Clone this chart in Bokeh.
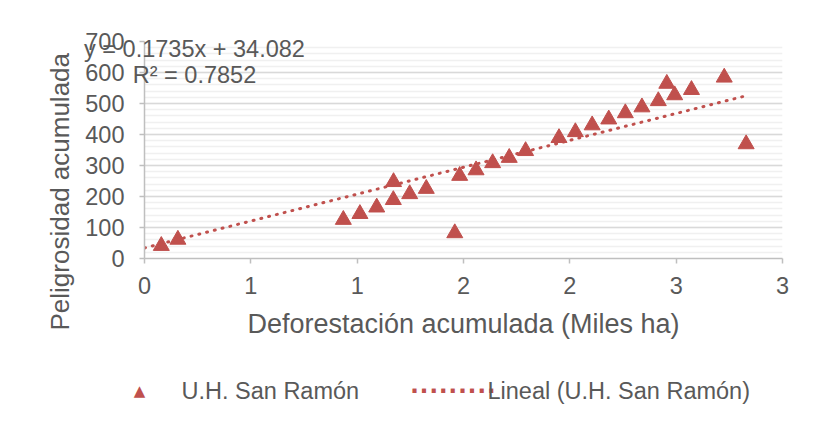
from bokeh.plotting import figure
from bokeh.models import (FixedTicker, SingleIntervalTicker, Range1d,
                          Label, ColumnDataSource, Title)
from bokeh.embed import file_html
from bokeh.resources import INLINE

# ---- data ----
deforestacion_miles_ha = [0.079, 0.157, 0.935, 1.013, 1.092, 1.170, 1.171, 1.247, 1.325,
                          1.459, 1.482, 1.559, 1.637, 1.715, 1.792, 1.949, 2.026, 2.105,
                          2.183, 2.261, 2.339, 2.416, 2.456, 2.493, 2.572, 2.726, 2.829]
peligrosidad = [41, 61, 125, 144, 165, 189, 247, 208, 225,
                82, 267, 285, 308, 325, 347, 389, 408, 430,
                449, 469, 488, 508, 564, 527, 544, 584, 369]

x_ticks = [0.0, 0.5, 1.0, 1.5, 2.0, 2.5, 3.0]
x_tick_labels = ["0", "1", "1", "2", "2", "3", "3"]
y_max = 700
y_step = 100

trend_slope = 0.1735      # per ha
trend_intercept = 34.082
trend_r2 = 0.7852

series_name = "U.H. San Ramón"
trend_name = "Lineal (U.H. San Ramón)"
x_title = "Deforestación acumulada (Miles ha)"
y_title = "Peligrosidad acumulada"

# ---- styling ----
FONT = "Liberation Sans"
GRAY = "#595959"
RED = "#C0504D"
AXIS = "#bfbfbf"

p = figure(frame_width=638, frame_height=217,
           min_border_left=144, min_border_right=27,
           min_border_top=41, min_border_bottom=140,
           x_range=Range1d(x_ticks[0], x_ticks[-1]), y_range=Range1d(0, y_max),
           output_backend="svg", toolbar_location=None)
p.outline_line_color = None
p.background_fill_color = "white"
p.border_fill_color = "white"

# axes
p.xaxis.ticker = FixedTicker(ticks=x_ticks)
p.xaxis.major_label_overrides = {t: l for t, l in zip(x_ticks, x_tick_labels)}
p.yaxis.ticker = SingleIntervalTicker(interval=y_step, num_minor_ticks=5)

for ax in (p.xaxis[0], p.yaxis[0]):
    ax.axis_line_color = AXIS
    ax.axis_line_width = 1.5
    ax.major_tick_line_color = AXIS
    ax.major_tick_line_width = 1.5
    ax.major_tick_out = 5
    ax.major_tick_in = 0
    ax.minor_tick_line_color = None
    ax.major_label_text_font = FONT
    ax.major_label_text_font_size = "23.5px"
    ax.major_label_text_color = GRAY
    ax.axis_label_text_font = FONT
    ax.axis_label_text_font_size = "27px"
    ax.axis_label_text_color = GRAY
    ax.axis_label_text_font_style = "normal"

p.xaxis.axis_label = x_title
p.xaxis.major_label_standoff = 13
p.xaxis.axis_label_standoff = 12
p.yaxis.major_label_standoff = 15

# y title: Excel places it lower than the plot-area centre
p.add_layout(Title(text=y_title, align="left", offset=-72, vertical_align="middle",
                   text_font=FONT, text_font_size="26px", text_font_style="normal",
                   text_color=GRAY, standoff=14), "left")

p.xgrid.grid_line_color = None
p.ygrid.grid_line_color = "#d9d9d9"
p.ygrid.grid_line_width = 1.5
p.ygrid.minor_grid_line_color = "#f0f0f0"
p.ygrid.minor_grid_line_width = 1.5

# data
src = ColumnDataSource(dict(x=deforestacion_miles_ha, y=peligrosidad))
pts = p.scatter("x", "y", source=src, marker="triangle", size=16,
                fill_color=RED, line_color=RED)

x_end = max(deforestacion_miles_ha)
trend = p.line([0, x_end],
               [trend_intercept, trend_intercept + trend_slope * 1000 * x_end],
               line_color=RED, line_width=3, line_dash="1 7", line_cap="round")

# texts outside the plot frame live in a side panel so that they are not clipped
eq = Label(x=0.235, y=635,
           text=f"y = {trend_slope}x + {trend_intercept}\nR² = {trend_r2}",
           text_align="center", text_baseline="middle", text_line_height=1.0,
           text_font=FONT, text_font_size="23.5px", text_color=GRAY)
p.add_layout(eq, "below")

# legend row (below the x-axis title)
legend_y = -426
p.add_layout(Label(x=-0.0235, y=legend_y, text="▲", text_align="center",
                   text_baseline="middle", text_font="DejaVu Sans",
                   text_font_size="15px", text_color=RED), "below")
p.add_layout(Label(x=0.174, y=legend_y, text=series_name, text_align="left",
                   text_baseline="middle", text_font=FONT,
                   text_font_size="23.5px", text_color=GRAY), "below")
p.add_layout(Label(x=1.2508, y=legend_y, text="·········", text_align="left",
                   text_baseline="middle", text_font=FONT,
                   text_font_size="28.8px", text_color=RED,
                   text_font_style="bold"), "below")
p.add_layout(Label(x=1.6128, y=legend_y, text=trend_name, text_align="left",
                   text_baseline="middle", text_font=FONT,
                   text_font_size="23.5px", text_color=GRAY), "below")

open("out.html", "w").write(file_html(p, INLINE))
